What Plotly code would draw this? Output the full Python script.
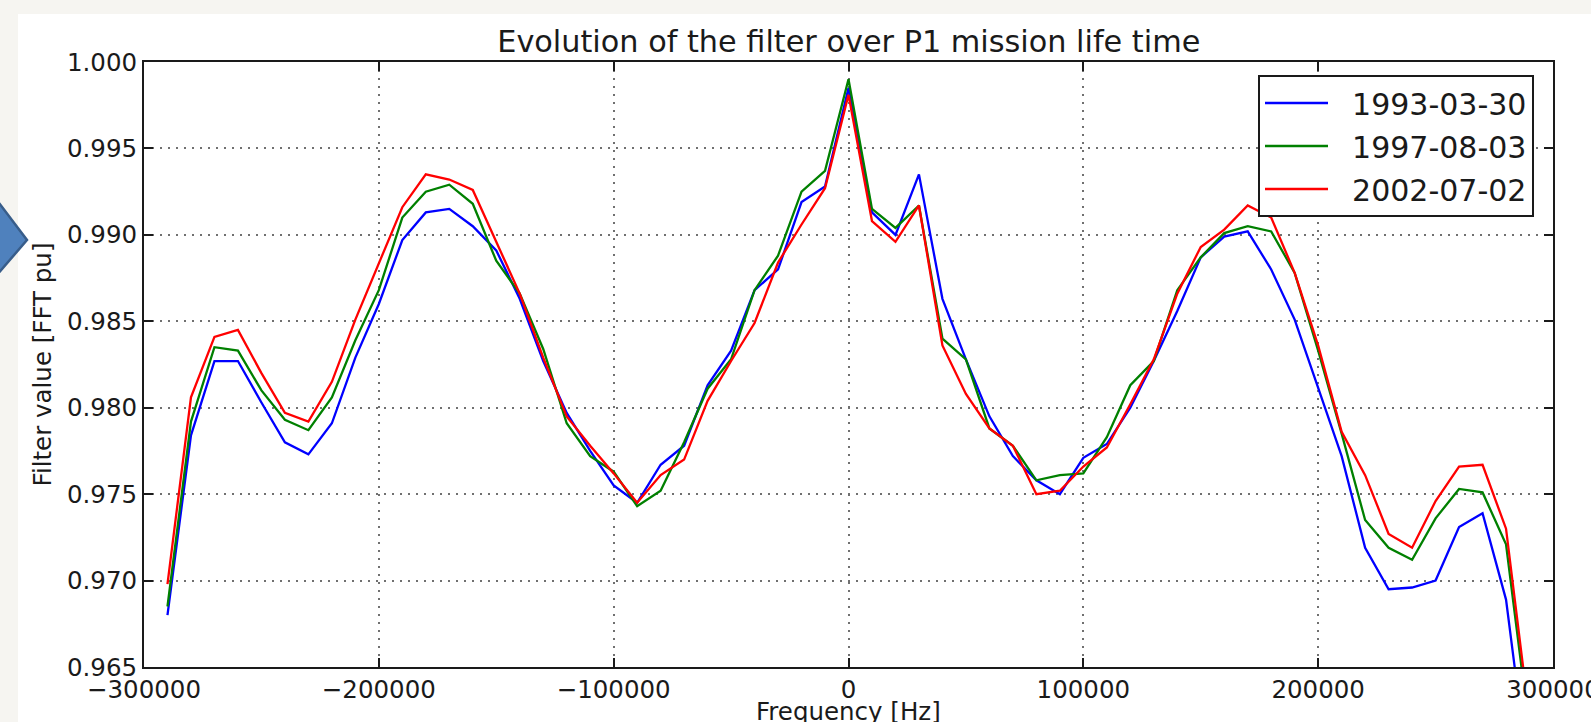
import plotly.graph_objects as go

# ---------------- data ----------------
freq_hz = [-290000, -280000, -270000, -260000, -250000, -240000, -230000, -220000, -210000, -200000,
           -190000, -180000, -170000, -160000, -150000, -140000, -130000, -120000, -110000, -100000,
           -90000, -80000, -70000, -60000, -50000, -40000, -30000, -20000, -10000, 0,
           10000, 20000, 30000, 40000, 50000, 60000, 70000, 80000, 90000, 100000,
           110000, 120000, 130000, 140000, 150000, 160000, 170000, 180000, 190000, 200000,
           210000, 220000, 230000, 240000, 250000, 260000, 270000, 280000, 290000]

filter_1993_03_30 = [0.9680, 0.9784, 0.9827, 0.9827, 0.9803, 0.9780, 0.9773, 0.9791, 0.9829, 0.9860,
                     0.9897, 0.9913, 0.9915, 0.9905, 0.9891, 0.9863, 0.9827, 0.9797, 0.9775, 0.9755,
                     0.9745, 0.9767, 0.9778, 0.9813, 0.9833, 0.9868, 0.9880, 0.9919, 0.9928, 0.9985,
                     0.9913, 0.9900, 0.9935, 0.9863, 0.9828, 0.9795, 0.9772, 0.9758, 0.9750, 0.9771,
                     0.9779, 0.9800, 0.9827, 0.9856, 0.9887, 0.9899, 0.9902, 0.9880, 0.9851, 0.9811,
                     0.9772, 0.9719, 0.9695, 0.9696, 0.9700, 0.9731, 0.9739, 0.9689, 0.9583]

filter_1997_08_03 = [0.9685, 0.9792, 0.9835, 0.9833, 0.9810, 0.9793, 0.9787, 0.9806, 0.9839, 0.9868,
                     0.9910, 0.9925, 0.9929, 0.9918, 0.9885, 0.9866, 0.9834, 0.9791, 0.9772, 0.9763,
                     0.9743, 0.9752, 0.9780, 0.9811, 0.9828, 0.9868, 0.9888, 0.9925, 0.9937, 0.9990,
                     0.9915, 0.9904, 0.9917, 0.9840, 0.9828, 0.9788, 0.9778, 0.9758, 0.9761, 0.9762,
                     0.9783, 0.9813, 0.9827, 0.9868, 0.9887, 0.9901, 0.9905, 0.9902, 0.9878, 0.9833,
                     0.9785, 0.9735, 0.9719, 0.9712, 0.9736, 0.9753, 0.9751, 0.9721, 0.9613]

filter_2002_07_02 = [0.9698, 0.9806, 0.9841, 0.9845, 0.9820, 0.9797, 0.9792, 0.9815, 0.9851, 0.9884,
                     0.9916, 0.9935, 0.9932, 0.9926, 0.9896, 0.9866, 0.9829, 0.9795, 0.9778, 0.9762,
                     0.9745, 0.9761, 0.9770, 0.9804, 0.9827, 0.9849, 0.9884, 0.9906, 0.9927, 0.9981,
                     0.9908, 0.9896, 0.9917, 0.9836, 0.9808, 0.9788, 0.9778, 0.9750, 0.9752, 0.9766,
                     0.9777, 0.9802, 0.9828, 0.9866, 0.9893, 0.9903, 0.9917, 0.9910, 0.9878, 0.9836,
                     0.9786, 0.9761, 0.9727, 0.9719, 0.9746, 0.9766, 0.9767, 0.9730, 0.9620]

series_names = ["1993-03-30", "1997-08-03", "2002-07-02"]
series_colors = ["#0000ff", "#008000", "#ff0000"]

x_tick_vals = [-300000, -200000, -100000, 0, 100000, 200000, 300000]
x_tick_text = ["\u2212300000", "\u2212200000", "\u2212100000", "0", "100000", "200000", "300000"]
y_tick_vals = [0.965, 0.970, 0.975, 0.980, 0.985, 0.990, 0.995, 1.000]
y_tick_text = ["0.965", "0.970", "0.975", "0.980", "0.985", "0.990", "0.995", "1.000"]

x_title = "Frequency [Hz]"
y_title = "Filter value [FFT pu]"
chart_title = "Evolution of the filter over P1 mission life time"

# ---------------- layout geometry ----------------
W, H = 1591, 722
L, R, T, B = 144, 38, 62, 55
PW, PH = W - L - R, H - T - B
FONT = "DejaVu Sans"
INK = "#1a1a1a"


def px(x):
    return (x - L) / PW


def py(y):
    return (H - B - y) / PH


fig = go.Figure()
for name, color, vals in zip(series_names, series_colors,
                             [filter_1993_03_30, filter_1997_08_03, filter_2002_07_02]):
    fig.add_trace(go.Scatter(x=freq_hz, y=vals, mode="lines",
                             name="\u00a0\u00a0" + name, legendgroup=name,
                             line=dict(color=color, width=2.3)))

axis_common = dict(
    automargin=False,
    showline=True, linecolor=INK, linewidth=2, mirror="ticks",
    ticks="inside", ticklen=9, tickwidth=1.5, tickcolor=INK,
    showgrid=True, gridcolor="#707070", gridwidth=1.6, griddash="2px,6px",
    zeroline=False, tickfont=dict(family=FONT, size=24.5, color=INK),
    ticklabeloverflow="allow",
)

fig.update_xaxes(range=[-300000, 300000], tickmode="array", tickvals=x_tick_vals, ticktext=x_tick_text,
                 **axis_common)
fig.update_yaxes(range=[0.965, 1.000], tickmode="array", tickvals=y_tick_vals, ticktext=y_tick_text,
                 title=dict(text=y_title, font=dict(family=FONT, size=24.5, color=INK), standoff=8),
                 **axis_common)

bg = "#f6f5f1"
shapes = [
    # off-white frame strips around the white figure panel
    dict(type="rect", xref="paper", yref="paper", x0=px(0), x1=px(W), y0=py(14), y1=py(0),
         fillcolor=bg, line=dict(width=0), layer="below"),
    dict(type="rect", xref="paper", yref="paper", x0=px(0), x1=px(18), y0=py(H), y1=py(0),
         fillcolor=bg, line=dict(width=0), layer="below"),
    # partial blue arrow at the left edge
    dict(type="path", xref="paper", yref="paper",
         path="M {0},{1} L {2},{3} L {4},{5} Z".format(
             px(-4), py(199), px(27), py(240), px(-4), py(276)),
         fillcolor="#4f81bd", line=dict(color="#385d8a", width=2.5), layer="above"),
]

# x-axis title placed as a paper annotation (it sits partly below the figure edge, like the reference)
annotations = [
    dict(text=x_title, xref="paper", yref="paper", x=px(848.8), y=py(695), xanchor="center",
         yanchor="top", showarrow=False, font=dict(family=FONT, size=24.5, color=INK)),
]

fig.update_layout(
    width=W, height=H,
    margin=dict(l=L, r=R, t=T, b=B, pad=0, autoexpand=False),
    paper_bgcolor="white", plot_bgcolor="white",
    font=dict(family=FONT, color=INK),
    title=dict(text=chart_title,
               font=dict(family=FONT, size=30.3, color=INK),
               x=px(848.8), xref="paper", xanchor="center",
               y=1 - 41.0 / H, yref="container", yanchor="middle", automargin=False),
    legend=dict(x=px(1258), y=py(75), xanchor="left", yanchor="top",
                bgcolor="white", bordercolor=INK, borderwidth=2,
                font=dict(family=FONT, size=30, color=INK),
                tracegroupgap=1, itemwidth=63),
    shapes=shapes,
    annotations=annotations,
    showlegend=True,
)

fig.write_html("out.html", config={"displayModeBar": False},
               post_script="document.body.style.margin='0px';")
